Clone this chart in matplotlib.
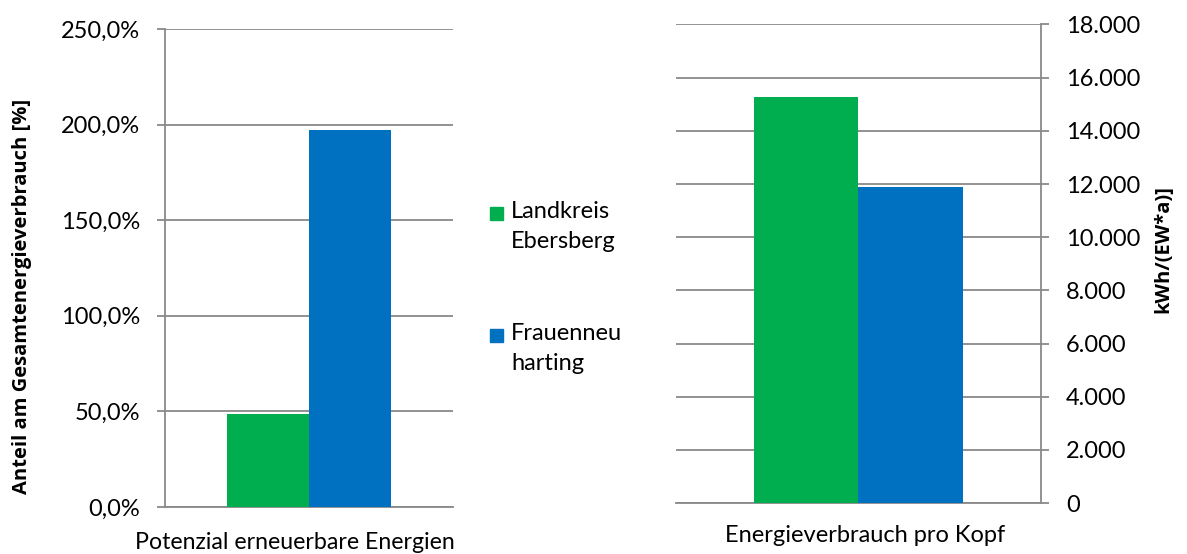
import numpy as np
import matplotlib.pyplot as plt
from matplotlib.ticker import FuncFormatter, MultipleLocator
from matplotlib.patches import Rectangle

plt.rcParams['font.family'] = ['Lato', 'DejaVu Sans']
plt.rcParams['font.size'] = 17

# data
series = ['Landkreis\nEbersberg', 'Frauenneu\nharting']
colors = ['#00AE4F', '#0070C0']
anteil = [48.4, 197.4]          # % share of total energy demand
verbrauch = [15280, 11890]      # kWh/(EW*a)
cat_left = 'Potenzial erneuerbare Energien'
cat_right = 'Energieverbrauch pro Kopf'

grid_c = '#898989'
W, H = 1187, 554

fig = plt.figure(figsize=(W / 100, H / 100), dpi=100)
ax1 = fig.add_axes([0.139, 0.0848, 0.2426, 0.8629])
ax2 = fig.add_axes([0.5695, 0.092, 0.3075, 0.8638])

w = 0.285
for i in range(2):
    ax1.bar((i - 0.5) * w, anteil[i], width=w, color=colors[i], zorder=3)
    ax2.bar((i - 0.5) * w, verbrauch[i], width=w, color=colors[i], zorder=3)

for ax in (ax1, ax2):
    ax.set_xlim(-0.5, 0.5)
    ax.set_xticks([])
    ax.grid(axis='y', color=grid_c, linewidth=1.3, zorder=0)
    ax.spines['top'].set_visible(False)
    ax.spines['bottom'].set_color(grid_c)
    ax.spines['bottom'].set_linewidth(1.3)
    ax.tick_params(axis='y', color=grid_c, length=6, width=1.3, pad=12)

# left chart
ax1.set_ylim(0, 250)
ax1.yaxis.set_major_locator(MultipleLocator(50))
ax1.yaxis.set_major_formatter(FuncFormatter(lambda v, p: f'{v:.1f}%'.replace('.', ',')))
ax1.spines['right'].set_visible(False)
ax1.spines['left'].set_color(grid_c)
ax1.spines['left'].set_linewidth(1.3)
ax1.set_ylabel('Anteil am Gesamtenergieverbrauch [%]', fontweight='bold',
               family=['Open Sans', 'DejaVu Sans'], fontsize=14.5, va='center')
ax1.yaxis.set_label_coords(-0.497, 0.441)
ax1.set_xlabel(cat_left, va='center', fontsize=16.7)
ax1.xaxis.set_label_coords(0.451, -0.075)

# right chart
ax2.set_ylim(0, 18000)
ax2.yaxis.set_major_locator(MultipleLocator(2000))
ax2.yaxis.set_major_formatter(FuncFormatter(lambda v, p: f'{int(v):,}'.replace(',', '.')))
ax2.yaxis.tick_right()
ax2.yaxis.set_label_position('right')
ax2.spines['left'].set_visible(False)
ax2.spines['right'].set_color(grid_c)
ax2.spines['right'].set_linewidth(1.3)
ax2.set_ylabel('kWh/(EW*a)]', fontweight='bold', family=['Open Sans', 'DejaVu Sans'],
               fontsize=14.5, va='center')
ax2.yaxis.set_label_coords(1.335, 0.531)
ax2.set_xlabel(cat_right, va='center')
ax2.xaxis.set_label_coords(0.518, -0.067)

# legend between the two charts
leg_y = [213, 335]
for i in range(2):
    y = 1 - leg_y[i] / H
    fig.add_artist(Rectangle((490 / W, y - 6.5 / H), 13 / W, 13 / H,
                             transform=fig.transFigure, color=colors[i]))
    fig.text(511 / W, y + 12 / H, series[i], va='top', ha='left', linespacing=1.55)

fig.savefig('out.png', dpi=100)
